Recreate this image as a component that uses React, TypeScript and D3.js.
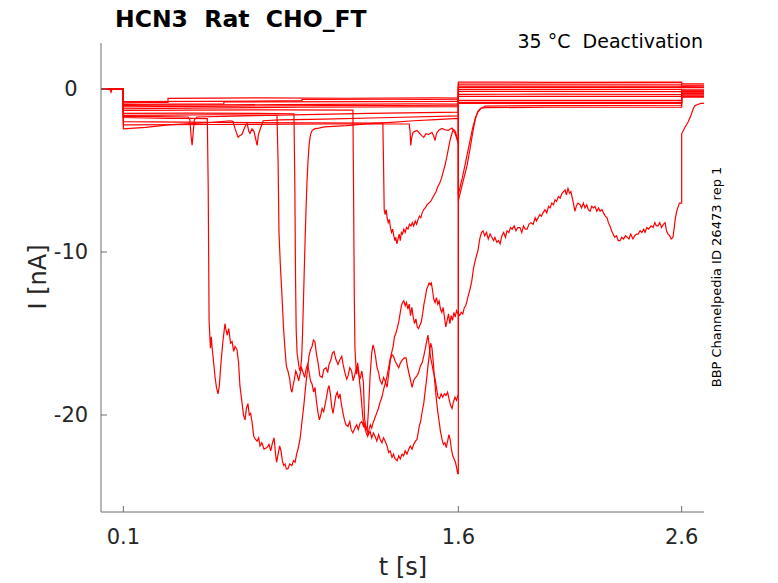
import React from 'react';
import * as d3 from 'd3';

type Pt = [number, number];

// axis ticks
const xTicks = [0.1, 1.6, 2.6];
const yTicks = [0, -10, -20];

// sweeps: [t (s), I (nA)]
const sweep01: Pt[] = [
  [0, 0], [0.1, 0], [0.1, -0.85], [0.2, -0.83], [0.3, -0.82], [0.3, -0.58], [0.7, -0.55],
  [1.1, -0.57], [1.5, -0.55], [1.6, -0.56], [1.6, 0.42], [2.0, 0.41], [2.6, 0.42], [2.6, 0.33], [2.7, 0.32],
];
const sweep02: Pt[] = [
  [0, 0], [0.1, 0], [0.1, -0.78], [0.5, -0.76], [0.9, -0.72], [0.9, -0.64], [1.3, -0.63], [1.6, -0.66],
  [1.6, 0.3], [2.6, 0.29], [2.6, 0.24], [2.7, 0.24],
];
const sweep03: Pt[] = [
  [0, 0], [0.1, 0], [0.1, -0.95], [0.55, -0.92], [0.55, -0.8], [1.2, -0.78], [1.6, -0.76],
  [1.6, 0.18], [2.6, 0.17], [2.6, 0.16], [2.7, 0.17],
];
const sweep04: Pt[] = [
  [0, 0.01], [0.1, 0], [0.1, -1.0], [0.8, -0.96], [1.4, -0.92], [1.6, -0.93],
  [1.6, 0.1], [2.6, 0.1], [2.6, 0.08], [2.7, 0.08],
];
const sweep05: Pt[] = [
  [0, 0], [0.04, 0], [0.045, -0.2], [0.05, 0], [0.1, 0], [0.1, -1.1], [0.6, -1.05], [1.0, -1.02], [1.6, -1.0],
  [1.6, -0.02], [2.6, -0.02], [2.6, -0.05], [2.7, -0.06],
];
const sweep06: Pt[] = [
  [0, 0], [0.1, 0], [0.1, -1.22], [0.4, -1.18], [0.9, -1.12], [1.6, -1.08],
  [1.6, -0.15], [2.6, -0.16], [2.6, -0.12], [2.7, -0.12],
];
const sweep07: Pt[] = [
  [0, 0], [0.1, 0], [0.1, -1.7], [0.25, -1.7], [0.39, -1.72], [0.398, -1.9], [0.404, -3.0], [0.408, -3.45],
  [0.412, -2.8], [0.418, -1.9], [0.43, -1.72], [0.8, -1.6], [1.2, -1.5], [1.6, -1.42],
  [1.6, -0.88], [2.6, -0.88], [2.6, -0.15], [2.7, -0.16],
];
const sweep08: Pt[] = [
  [0, 0], [0.1, 0], [0.1, -2.45], [0.15, -2.4], [0.2, -2.35], [0.3, -2.2], [0.4, -2.12], [0.5, -2.05],
  [0.58, -1.95], [0.591, -2.0], [0.6, -2.42], [0.614, -2.97], [0.622, -2.85], [0.631, -2.79], [0.645, -2.3],
  [0.654, -2.11], [0.662, -2.6], [0.667, -2.73], [0.676, -2.45], [0.685, -2.6], [0.69, -2.9], [0.699, -3.46],
  [0.705, -2.8], [0.712, -2.5], [0.726, -1.95], [0.8, -1.9], [1.0, -1.85], [1.3, -1.75], [1.6, -1.65],
  [1.6, -0.82], [2.6, -0.82], [2.6, -0.27], [2.7, -0.28],
];
const sweep09: Pt[] = [
  [0, 0], [0.1, 0], [0.1, -2.2], [0.5, -2.18], [1.0, -2.15], [1.38, -2.15], [1.384, -2.6], [1.387, -3.46],
  [1.391, -3.0], [1.397, -2.66], [1.405, -2.6], [1.415, -2.54], [1.425, -2.7], [1.435, -2.85], [1.445, -2.97],
  [1.455, -2.75], [1.466, -2.8], [1.482, -2.66], [1.49, -2.9], [1.496, -3.16], [1.501, -2.8], [1.505, -2.66],
  [1.515, -2.5], [1.527, -2.42], [1.54, -2.5], [1.554, -2.54], [1.565, -2.45], [1.572, -2.4], [1.58, -2.6],
  [1.585, -2.7], [1.592, -3.0], [1.598, -3.3],
  [1.6, -3.3], [1.6, -0.7], [2.6, -0.7], [2.6, -0.38], [2.7, -0.38],
];
const sweep10: Pt[] = [
  [0, 0], [0.1, 0], [0.1, -2.0], [0.5, -2.05], [0.9, -2.08], [1.262, -2.1],
  [1.265, -4.5], [1.268, -7.4], [1.272, -7.7], [1.277, -7.4], [1.281, -7.9], [1.286, -8.2], [1.291, -8.0],
  [1.296, -8.5], [1.301, -8.8], [1.306, -8.6], [1.311, -9.0], [1.316, -9.3], [1.32, -9.1], [1.325, -9.5],
  [1.33, -9.2], [1.335, -8.9], [1.34, -9.3], [1.345, -8.8], [1.35, -8.9], [1.356, -8.6], [1.362, -8.8],
  [1.368, -8.5], [1.375, -8.6], [1.381, -8.3], [1.388, -8.4], [1.394, -8.2], [1.4, -8.4], [1.407, -8.1],
  [1.413, -8.3], [1.42, -8.0], [1.426, -7.8], [1.432, -7.9], [1.438, -7.6], [1.445, -7.4], [1.452, -7.3],
  [1.46, -7.1], [1.468, -7.0], [1.476, -6.9], [1.484, -6.7], [1.492, -6.5], [1.5, -6.3], [1.508, -6.0],
  [1.516, -5.8], [1.524, -5.5], [1.532, -5.1], [1.54, -4.7], [1.548, -4.2], [1.555, -3.7], [1.562, -3.2],
  [1.568, -2.9], [1.574, -2.6], [1.58, -2.5], [1.586, -2.6], [1.592, -2.9], [1.598, -3.1],
  [1.6, -3.1], [1.6, -6.5], [1.608, -6.0], [1.617, -5.5], [1.628, -4.8], [1.64, -4.0], [1.652, -3.2],
  [1.664, -2.4], [1.676, -1.8], [1.688, -1.4], [1.7, -1.2], [1.72, -1.05], [2.0, -1.02], [2.6, -1.0],
  [2.6, -0.45], [2.7, -0.45],
];
const sweep11: Pt[] = [
  [0, 0], [0.1, 0], [0.1, -1.5], [0.4, -1.48], [0.7, -1.5], [0.864, -1.52],
  [0.868, -6.0], [0.871, -11.5], [0.874, -14.8], [0.878, -16.2], [0.882, -16.6], [0.886, -17.0],
  [0.89, -17.3], [0.894, -17.1], [0.898, -16.6], [0.902, -15.2], [0.906, -13.3], [0.91, -11.2], [0.914, -9.2],
  [0.918, -7.4], [0.922, -5.8], [0.927, -4.4], [0.932, -3.4], [0.938, -2.8], [0.945, -2.55], [0.955, -2.45],
  [0.975, -2.4], [1.0, -2.32], [1.1, -2.25], [1.2, -2.12], [1.3, -2.05], [1.4, -1.95], [1.5, -1.88], [1.598, -1.8],
  [1.6, -1.8], [1.6, -6.85], [1.608, -6.4], [1.617, -5.9], [1.628, -5.3], [1.639, -4.7], [1.652, -3.7],
  [1.666, -2.55], [1.677, -1.8], [1.688, -1.35], [1.7, -1.2], [1.72, -1.15], [2.0, -1.12], [2.6, -1.12],
  [2.6, -0.5], [2.7, -0.5],
];
const sweep12: Pt[] = [
  [0, 0], [0.1, 0], [0.1, -1.75], [0.2, -1.78], [0.3, -1.8], [0.4, -1.8], [0.476, -1.82],
  [0.48, -6.0], [0.484, -14.2], [0.49, -15.9], [0.494, -15.2], [0.497, -15.8], [0.503, -16.6], [0.511, -17.7],
  [0.517, -18.3], [0.524, -18.7], [0.53, -18.2], [0.536, -17.0], [0.545, -15.6], [0.555, -14.4], [0.56, -14.8],
  [0.565, -15.1], [0.572, -14.7], [0.58, -15.6], [0.587, -15.5], [0.594, -16.1], [0.6, -15.8], [0.609, -16.0],
  [0.616, -16.8], [0.622, -18.2], [0.631, -19.2], [0.638, -20.0], [0.645, -20.3], [0.651, -19.6], [0.658, -19.3],
  [0.664, -20.0], [0.67, -19.9], [0.676, -20.4], [0.684, -21.3], [0.692, -21.5], [0.699, -21.6], [0.706, -21.4],
  [0.712, -21.9], [0.72, -21.7], [0.73, -22.1], [0.743, -22.0], [0.752, -21.8], [0.76, -22.2], [0.768, -21.7],
  [0.775, -21.4], [0.781, -22.3], [0.786, -22.9], [0.793, -22.4], [0.8, -21.9], [0.806, -22.2], [0.812, -22.8],
  [0.818, -23.1], [0.824, -23.0], [0.83, -23.3], [0.837, -23.3], [0.845, -23.0], [0.855, -23.1], [0.862, -22.8],
  [0.869, -22.9], [0.876, -22.4], [0.882, -22.1], [0.891, -21.5], [0.9, -20.4], [0.909, -19.3], [0.918, -18.0],
  [0.925, -17.2], [0.931, -16.4], [0.938, -16.0], [0.945, -15.8], [0.951, -15.4], [0.958, -15.5], [0.964, -16.2],
  [0.972, -16.8], [0.98, -17.6], [0.99, -17.7], [0.998, -17.2], [1.008, -17.1], [1.015, -17.4], [1.021, -16.9],
  [1.03, -16.6], [1.036, -16.2], [1.043, -16.1], [1.052, -16.6], [1.061, -16.9], [1.07, -16.6], [1.078, -16.4],
  [1.084, -16.9], [1.092, -17.4], [1.1, -17.8], [1.106, -17.6], [1.114, -17.1], [1.122, -17.3], [1.129, -17.9],
  [1.137, -17.5], [1.145, -17.0], [1.152, -17.4], [1.16, -17.8], [1.168, -17.3], [1.175, -18.0], [1.18, -20.2],
  [1.186, -20.8], [1.192, -20.9], [1.198, -19.6], [1.205, -17.6], [1.212, -16.2], [1.218, -15.7], [1.224, -16.0],
  [1.23, -16.5], [1.236, -17.1], [1.243, -17.4], [1.25, -17.9], [1.258, -18.1], [1.265, -17.7], [1.272, -17.9],
  [1.281, -18.3], [1.288, -17.5], [1.296, -16.6], [1.303, -16.3], [1.31, -16.4], [1.317, -16.7], [1.325, -16.9],
  [1.333, -17.1], [1.341, -16.8], [1.35, -16.6], [1.358, -16.5], [1.366, -16.5], [1.372, -17.0], [1.38, -17.5],
  [1.388, -18.0], [1.393, -18.3], [1.4, -17.9], [1.408, -17.7], [1.415, -17.6], [1.422, -17.4], [1.43, -17.0],
  [1.438, -16.8], [1.445, -16.4], [1.451, -16.0], [1.458, -15.5], [1.464, -15.1], [1.47, -15.8], [1.476, -16.5],
  [1.482, -16.9], [1.489, -17.4], [1.496, -17.8], [1.503, -18.4], [1.509, -18.9], [1.516, -19.0], [1.523, -18.7],
  [1.53, -18.9], [1.538, -18.7], [1.545, -18.8], [1.552, -18.6], [1.558, -19.0], [1.565, -19.4], [1.572, -19.6],
  [1.578, -19.2], [1.585, -18.9], [1.592, -19.1], [1.598, -18.8],
  [1.6, -18.8], [1.6, -0.33], [2.0, -0.32], [2.6, -0.34], [2.6, -0.2], [2.7, -0.2],
];
const sweep13: Pt[] = [
  [0, 0], [0.1, 0], [0.1, -1.62], [0.3, -1.6], [0.5, -1.58], [0.7, -1.6], [0.788, -1.62],
  [0.793, -4.5], [0.797, -8.8], [0.803, -10.8], [0.81, -12.6], [0.817, -14.6], [0.824, -16.0], [0.83, -17.0],
  [0.837, -17.3], [0.845, -17.8], [0.85, -18.4], [0.855, -18.6], [0.86, -18.2], [0.866, -17.8], [0.872, -17.3],
  [0.878, -17.5], [0.885, -17.9], [0.891, -17.5], [0.898, -17.1], [0.905, -17.4], [0.912, -17.7], [0.918, -17.2],
  [0.925, -16.9], [0.931, -17.3], [0.938, -17.9], [0.945, -18.1], [0.952, -18.6], [0.958, -18.3], [0.965, -19.2],
  [0.972, -19.9], [0.978, -20.3], [0.984, -20.0], [0.99, -19.6], [0.997, -19.8], [1.003, -19.4], [1.01, -18.9],
  [1.016, -18.4], [1.021, -18.2], [1.027, -18.7], [1.033, -19.5], [1.039, -19.9], [1.046, -19.3], [1.052, -18.8],
  [1.058, -18.6], [1.064, -19.0], [1.07, -18.7], [1.077, -19.4], [1.084, -19.9], [1.09, -20.3], [1.097, -20.6],
  [1.106, -20.7], [1.114, -20.4], [1.12, -20.9], [1.128, -21.1], [1.137, -20.8], [1.145, -20.6], [1.152, -20.9],
  [1.16, -20.5], [1.168, -20.4], [1.175, -20.7], [1.182, -20.5], [1.19, -20.9], [1.198, -21.2], [1.205, -21.0],
  [1.212, -21.4], [1.22, -21.1], [1.227, -21.3], [1.235, -21.6], [1.243, -21.2], [1.25, -21.5], [1.258, -21.7],
  [1.265, -21.4], [1.272, -21.6], [1.281, -21.9], [1.288, -22.3], [1.295, -22.2], [1.303, -22.6], [1.31, -22.4],
  [1.317, -22.7], [1.326, -22.8], [1.333, -22.5], [1.34, -22.7], [1.348, -22.4], [1.355, -22.5], [1.362, -22.2],
  [1.37, -22.4], [1.378, -22.1], [1.385, -21.9], [1.393, -22.1], [1.4, -21.8], [1.408, -21.6], [1.415, -21.5],
  [1.42, -21.1], [1.425, -20.7], [1.431, -20.4], [1.438, -19.8], [1.445, -19.3], [1.451, -18.6], [1.458, -17.8],
  [1.464, -17.0], [1.47, -16.3], [1.476, -15.6], [1.482, -15.9], [1.488, -16.8], [1.494, -17.9], [1.5, -18.8],
  [1.507, -19.7], [1.514, -20.4], [1.52, -21.0], [1.527, -21.5], [1.533, -21.8], [1.54, -21.7], [1.546, -22.0],
  [1.552, -21.6], [1.558, -21.2], [1.563, -21.5], [1.569, -22.1], [1.575, -22.5], [1.581, -22.7], [1.587, -22.9],
  [1.592, -23.2], [1.597, -23.6],
  [1.6, -23.6], [1.6, -0.45], [2.0, -0.46], [2.6, -0.45], [2.6, -0.3], [2.7, -0.3],
];
const sweep14: Pt[] = [
  [0, 0], [0.1, 0], [0.1, -1.32], [0.4, -1.3], [0.8, -1.28], [1.128, -1.3],
  [1.131, -6.5], [1.134, -12.5], [1.137, -15.9], [1.141, -16.9], [1.145, -17.5], [1.149, -16.8], [1.153, -17.2],
  [1.158, -18.0], [1.163, -18.6], [1.168, -19.4], [1.172, -20.1], [1.177, -20.6], [1.182, -20.8], [1.188, -21.1],
  [1.194, -21.3], [1.2, -20.9], [1.206, -20.6], [1.212, -20.8], [1.218, -20.5], [1.226, -20.2], [1.234, -19.9],
  [1.242, -19.6], [1.25, -19.2], [1.258, -18.9], [1.266, -18.4], [1.274, -18.0], [1.281, -17.6], [1.288, -17.1],
  [1.294, -16.6], [1.301, -16.2], [1.308, -15.8], [1.314, -15.2], [1.32, -15.0], [1.326, -14.7], [1.333, -14.3],
  [1.339, -13.8], [1.345, -13.3], [1.35, -13.1], [1.356, -13.0], [1.362, -13.3], [1.368, -13.1], [1.374, -13.5],
  [1.38, -13.2], [1.386, -13.9], [1.392, -13.4], [1.398, -14.0], [1.404, -14.4], [1.41, -14.1], [1.416, -14.6],
  [1.422, -14.7], [1.428, -14.5], [1.434, -14.3], [1.44, -13.8], [1.446, -13.2], [1.452, -12.8], [1.458, -12.3],
  [1.464, -12.1], [1.469, -11.9], [1.474, -12.0], [1.479, -11.9], [1.484, -12.3], [1.49, -12.9], [1.496, -13.1],
  [1.502, -12.8], [1.508, -13.2], [1.514, -13.0], [1.52, -13.5], [1.526, -13.7], [1.532, -13.4], [1.538, -14.0],
  [1.544, -14.6], [1.55, -14.2], [1.556, -13.8], [1.562, -14.4], [1.568, -13.9], [1.574, -14.2], [1.58, -13.7],
  [1.586, -14.0], [1.592, -13.6], [1.599, -13.8], [1.606, -13.9], [1.613, -13.7], [1.62, -13.8], [1.627, -13.4],
  [1.633, -13.3], [1.639, -13.0], [1.646, -12.6], [1.652, -12.3], [1.66, -11.8], [1.668, -11.0], [1.676, -10.5],
  [1.682, -10.2], [1.688, -9.9], [1.696, -9.2], [1.704, -8.8], [1.711, -8.7], [1.718, -9.0], [1.726, -8.8],
  [1.734, -9.2], [1.742, -8.9], [1.75, -9.1], [1.758, -9.3], [1.764, -9.1], [1.772, -9.4], [1.78, -9.3],
  [1.787, -9.5], [1.795, -9.0], [1.803, -8.8], [1.811, -9.1], [1.818, -8.7], [1.826, -8.8], [1.834, -8.5],
  [1.841, -8.6], [1.85, -8.4], [1.858, -8.7], [1.866, -8.5], [1.876, -8.5], [1.884, -8.8], [1.892, -8.4],
  [1.9, -8.6], [1.908, -8.6], [1.916, -8.3], [1.925, -8.2], [1.935, -8.3], [1.944, -7.9], [1.95, -8.1],
  [1.957, -7.9], [1.965, -7.7], [1.972, -7.8], [1.979, -7.6], [1.988, -7.4], [1.996, -7.6], [2.004, -7.2],
  [2.011, -7.3], [2.018, -7.0], [2.026, -7.1], [2.033, -6.8], [2.04, -6.9], [2.048, -6.6], [2.056, -6.7],
  [2.064, -6.4], [2.071, -6.3], [2.078, -6.2], [2.084, -6.5], [2.091, -6.1], [2.098, -6.4], [2.104, -6.3],
  [2.109, -6.6], [2.115, -7.0], [2.122, -7.5], [2.128, -7.2], [2.135, -7.0], [2.145, -7.1], [2.152, -7.3],
  [2.16, -7.0], [2.167, -7.3], [2.175, -7.1], [2.182, -7.4], [2.19, -7.5], [2.197, -7.2], [2.205, -7.3],
  [2.212, -7.2], [2.22, -7.5], [2.228, -7.3], [2.235, -7.5], [2.243, -7.4], [2.25, -7.6], [2.258, -7.8],
  [2.266, -7.9], [2.272, -8.2], [2.279, -8.4], [2.286, -8.7], [2.293, -8.9], [2.3, -9.1], [2.308, -9.0],
  [2.316, -9.3], [2.324, -9.3], [2.332, -9.1], [2.34, -9.2], [2.348, -9.0], [2.356, -9.1], [2.364, -9.2],
  [2.372, -8.9], [2.382, -9.2], [2.39, -9.0], [2.398, -8.9], [2.405, -8.9], [2.414, -8.7], [2.422, -8.8],
  [2.43, -8.6], [2.436, -8.8], [2.444, -8.5], [2.452, -8.6], [2.463, -8.4], [2.472, -8.5], [2.48, -8.2],
  [2.487, -8.4], [2.494, -8.4], [2.502, -8.2], [2.51, -8.5], [2.518, -8.3], [2.526, -8.2], [2.532, -8.7],
  [2.539, -8.9], [2.546, -9.0], [2.553, -9.2], [2.561, -9.1], [2.566, -8.6], [2.571, -8.0], [2.575, -7.7],
  [2.58, -7.4], [2.585, -7.2], [2.59, -7.0], [2.593, -7.0],
  [2.6, -7.0], [2.6, -2.75], [2.615, -2.35], [2.63, -2.0], [2.642, -1.6], [2.652, -1.2], [2.66, -1.02],
  [2.672, -0.95], [2.686, -0.88], [2.7, -0.88],
];

const sweeps = [
  sweep01, sweep02, sweep03, sweep04, sweep05, sweep06, sweep07,
  sweep08, sweep09, sweep10, sweep11, sweep12, sweep13, sweep14,
];

const W = 778;
const H = 583;
const plot = { left: 101, right: 704, top: 43, bottom: 512 };
const axisColor = '#262626';
const spineColor = '#6e6e6e';
const font = '"DejaVu Sans", "Liberation Sans", sans-serif';

export default function App() {
  const x = d3.scaleLinear().domain([0, 2.7]).range([plot.left, plot.right]);
  const y = d3.scaleLinear().domain([-25.95, 2.82]).range([plot.bottom, plot.top]);
  const line = d3
    .line<Pt>()
    .x((d) => x(d[0]))
    .y((d) => y(d[1]));

  return (
    <svg
      width={W}
      height={H}
      style={{ position: 'absolute', left: 0, top: 0, background: '#fff' }}
      fontFamily={font}
    >
      <defs>
        <clipPath id="plotClip">
          <rect
            x={plot.left}
            y={plot.top}
            width={plot.right - plot.left}
            height={plot.bottom - plot.top}
          />
        </clipPath>
      </defs>

      <g clipPath="url(#plotClip)">
        {sweeps.map((s, i) => (
          <path key={i} d={line(s) || ''} fill="none" stroke="#ff0000" strokeWidth={1.2} />
        ))}
      </g>

      {/* axes, MATLAB style: box off, ticks pointing in */}
      <line x1={plot.left} x2={plot.left} y1={plot.top} y2={plot.bottom} stroke={spineColor} strokeWidth={1} />
      <line x1={plot.left} x2={plot.right} y1={plot.bottom} y2={plot.bottom} stroke={spineColor} strokeWidth={1} />

      {yTicks.map((t) => (
        <g key={t}>
          <line x1={plot.left} x2={plot.left + 6} y1={y(t)} y2={y(t)} stroke={spineColor} />
          <text x={71} y={y(t)} dy="0.35em" textAnchor="middle" fontSize={21} fill={axisColor}>
            {t}
          </text>
        </g>
      ))}
      {xTicks.map((t) => (
        <g key={t}>
          <line x1={x(t)} x2={x(t)} y1={plot.bottom} y2={plot.bottom - 6} stroke={spineColor} />
          <text x={x(t)} y={537} dy="0.35em" textAnchor="middle" fontSize={21} fill={axisColor}>
            {t}
          </text>
        </g>
      ))}

      <text x={403} y={567} dy="0.35em" textAnchor="middle" fontSize={24} fill={axisColor}>
        t [s]
      </text>
      <text
        transform="translate(38,277) rotate(-90)"
        dy="0.35em"
        textAnchor="middle"
        fontSize={24}
        fill={axisColor}
      >
        I [nA]
      </text>

      <text x={115} y={27} fontSize={23.5} fontWeight="bold" fill="#000" style={{ whiteSpace: 'pre' }}>
        {'HCN3  Rat  CHO_FT'}
      </text>
      <text x={703} y={48} textAnchor="end" fontSize={19} fill="#000" style={{ whiteSpace: 'pre' }}>
        {'35 °C  Deactivation'}
      </text>
      <text
        transform="translate(716,277) rotate(-90)"
        dy="0.35em"
        textAnchor="middle"
        fontSize={13}
        fill="#000"
      >
        BBP Channelpedia ID 26473 rep 1
      </text>
    </svg>
  );
}
